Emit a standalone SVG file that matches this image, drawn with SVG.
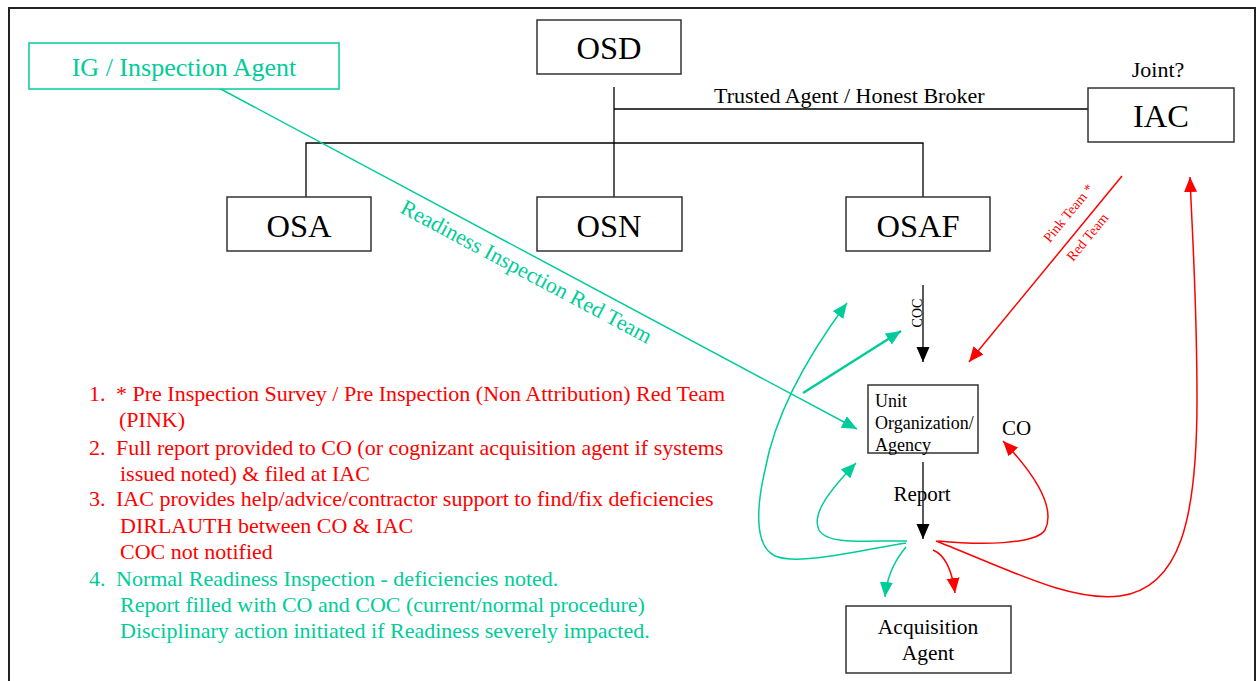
<svg xmlns="http://www.w3.org/2000/svg" width="1257" height="681" viewBox="0 0 1257 681">
<style>
.box{fill:#fff;stroke:#333;stroke-width:1.5}
.t{font-family:"Liberation Serif","Times New Roman",serif;fill:#000}
.big{font-size:32.5px;text-anchor:middle}
.red{fill:#ff0000}
.grn{fill:#00cc99}
.lr{stroke:#ff0000;fill:none;stroke-width:1.5}
.lg{stroke:#00cc99;fill:none;stroke-width:1.5}
.lk{stroke:#000;fill:none;stroke-width:1.3}
.lst{font-size:22px}
</style>
<defs>
<marker id="ar" markerUnits="userSpaceOnUse" markerWidth="16" markerHeight="14" refX="15" refY="6.5" orient="auto"><path d="M0,0 L15,6.5 L0,13 z" fill="#ff0000"/></marker>
<marker id="ag" markerUnits="userSpaceOnUse" markerWidth="16" markerHeight="14" refX="15" refY="6.5" orient="auto"><path d="M0,0 L15,6.5 L0,13 z" fill="#00cc99"/></marker>
<marker id="ak" markerUnits="userSpaceOnUse" markerWidth="16" markerHeight="14" refX="15" refY="6.5" orient="auto"><path d="M0,0 L15,6.5 L0,13 z" fill="#000"/></marker>
</defs>
<rect x="0" y="0" width="1257" height="681" fill="#fff"/>
<rect x="9" y="8" width="1246" height="690" fill="none" stroke="#222" stroke-width="2"/>

<g id="connectors">
<path class="lk" d="M614 87 V197 M306 197 V143 H923 V197 M614 109 H1088"/>
<path class="lk" d="M923 285 V362" marker-end="url(#ak)"/>
<path class="lk" d="M923 462 V539" marker-end="url(#ak)"/>
<path class="lg" d="M217 87 L857 429" marker-end="url(#ag)"/>
<path class="lr" d="M1122 176 L969 362" marker-end="url(#ar)"/>
<path class="lg" d="M906 543 C860 550 800 566 775 556 C752 545 758 500 765 470 C776 410 812 350 847 303" marker-end="url(#ag)"/>
<path class="lg" style="stroke-width:2.5" d="M803 393 L901 331" marker-end="url(#ag)"/>
<path class="lg" d="M907 541 C870 540 828 546 819 530 C811 514 830 490 856 463" marker-end="url(#ag)"/>
<path class="lg" d="M906 547 C895 560 887 575 885 597" marker-end="url(#ag)"/>
<path class="lr" d="M933 550 C945 555 952 570 955 593" marker-end="url(#ar)"/>
<path class="lr" d="M938 541 C980 545 1035 545 1045 530 C1055 510 1040 480 1003 441" marker-end="url(#ar)"/>
<path class="lr" d="M936 541 C1010 570 1070 602 1120 596 C1180 588 1197 520 1197 400 C1197 300 1192 230 1190 177" marker-end="url(#ar)"/>
<text class="t grn" style="font-size:22px" text-anchor="middle" x="523" y="278" transform="rotate(28 523 278)">Readiness Inspection Red Team</text>
<text class="t red" style="font-size:14px" text-anchor="middle" x="1072" y="216" transform="rotate(-50.5 1072 216)">Pink Team *</text>
<text class="t red" style="font-size:14px" text-anchor="middle" x="1091" y="240" transform="rotate(-50.5 1091 240)">Red Team</text>
<text class="t" style="font-size:22px" x="714" y="103">Trusted Agent / Honest Broker</text>
<text class="t" style="font-size:14px" text-anchor="middle" x="922" y="313" transform="rotate(-90 922 313)">COC</text>
<text class="t" style="font-size:21px" text-anchor="middle" x="922" y="501">Report</text>
<text class="t" style="font-size:21px" x="1002" y="435">CO</text>
</g>

<g id="ig"><rect x="29" y="43" width="310" height="46" fill="#fff" stroke="#00cc99" stroke-width="1.5"/><text class="t grn" style="font-size:26px" text-anchor="middle" x="184" y="76">IG / Inspection Agent</text></g>
<g id="osd"><rect class="box" x="537" y="20" width="144" height="54"/><text class="t big" x="609" y="59">OSD</text></g>
<g id="osa"><rect class="box" x="227" y="197" width="144" height="54"/><text class="t big" x="299" y="237">OSA</text></g>
<g id="osn"><rect class="box" x="537" y="197" width="145" height="54"/><text class="t big" x="609" y="237">OSN</text></g>
<g id="osaf"><rect class="box" x="846" y="197" width="144" height="54"/><text class="t big" x="918" y="237">OSAF</text></g>
<g id="iac"><rect class="box" x="1088" y="88" width="146" height="54"/><text class="t big" x="1161" y="127">IAC</text><text class="t" style="font-size:22px" text-anchor="middle" x="1158" y="77">Joint?</text></g>
<g id="unit"><rect class="box" x="868" y="385" width="110" height="68"/><text class="t" style="font-size:18px" x="875" y="407">Unit</text><text class="t" style="font-size:18px" x="875" y="429">Organization/</text><text class="t" style="font-size:18px" x="875" y="451">Agency</text></g>
<g id="acq"><rect class="box" x="846" y="606" width="165" height="67"/><text class="t" style="font-size:21.5px" text-anchor="middle" x="928" y="634">Acquisition</text><text class="t" style="font-size:21.5px" text-anchor="middle" x="928" y="660">Agent</text></g>

<g id="notes">
<text class="t red lst" x="89" y="401">1.</text><text class="t red lst" x="116" y="401">* Pre Inspection Survey / Pre Inspection (Non Attribution) Red Team</text>
<text class="t red lst" x="119" y="427">(PINK)</text>
<text class="t red lst" x="89" y="455">2.</text><text class="t red lst" x="116" y="455">Full report provided to CO (or cognizant acquisition agent if systems</text>
<text class="t red lst" x="120" y="481">issued noted) &amp; filed at IAC</text>
<text class="t red lst" x="89" y="506">3.</text><text class="t red lst" x="116" y="506">IAC provides help/advice/contractor support to find/fix deficiencies</text>
<text class="t red lst" x="120" y="533">DIRLAUTH between CO &amp; IAC</text>
<text class="t red lst" x="120" y="559">COC not notified</text>
<text class="t grn lst" x="89" y="586">4.</text><text class="t grn lst" x="116" y="586">Normal Readiness Inspection - deficiencies noted.</text>
<text class="t grn lst" x="120" y="612">Report filled with CO and COC (current/normal procedure)</text>
<text class="t grn lst" x="120" y="638">Disciplinary action initiated if Readiness severely impacted.</text>
</g>
</svg>
